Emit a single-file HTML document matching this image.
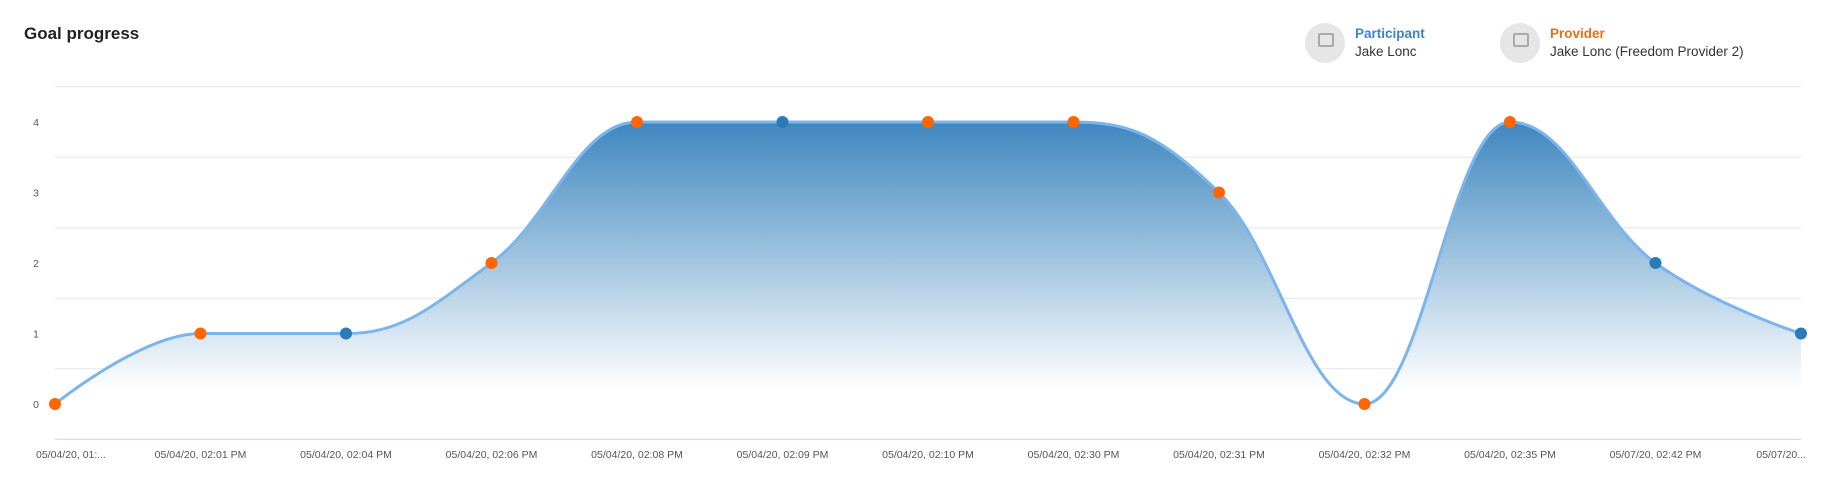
<!DOCTYPE html>
<html><head><meta charset="utf-8">
<style>
html,body{margin:0;padding:0;background:#fff;}
body{width:1836px;height:502px;overflow:hidden;position:relative;font-family:"Liberation Sans",sans-serif;}
.title{position:absolute;left:24px;top:24px;font-size:17px;font-weight:bold;color:#222;}
.legend{position:absolute;top:23px;display:flex;align-items:center;}
.avatar{width:40px;height:40px;border-radius:50%;background:#e6e6e6;margin-right:10px;position:relative;}
.avatar::after{content:"";position:absolute;left:13px;top:10px;width:12px;height:10px;border:2px solid #aaa;border-radius:2px;}
.lt{font-size:13.5px;line-height:18px;}
.lt b{display:block;}
</style></head><body>
<div class="title">Goal progress</div>
<div class="legend" style="left:1305px">
 <div class="avatar"></div>
 <div class="lt"><b style="color:#3d85c6">Participant</b><span style="color:#333">Jake Lonc</span></div>
</div>
<div class="legend" style="left:1500px">
 <div class="avatar"></div>
 <div class="lt"><b style="color:#f26b0f">Provider</b><span style="color:#333">Jake Lonc (Freedom Provider 2)</span></div>
</div>
<svg id="chart" width="1836" height="502" style="position:absolute;left:0;top:0">
<defs><linearGradient id="g" x1="0" y1="0" x2="0" y2="1" gradientUnits="objectBoundingBox">
<stop offset="0" stop-color="#3f87bf"/><stop offset="0.95" stop-color="#ffffff"/><stop offset="1" stop-color="#ffffff"/></linearGradient></defs>
</svg>
<script>
const categories=["05/04/20, 01:...","05/04/20, 02:01 PM","05/04/20, 02:04 PM","05/04/20, 02:06 PM","05/04/20, 02:08 PM","05/04/20, 02:09 PM","05/04/20, 02:10 PM","05/04/20, 02:30 PM","05/04/20, 02:31 PM","05/04/20, 02:32 PM","05/04/20, 02:35 PM","05/07/20, 02:42 PM","05/07/20..."];
const values=[0,1,1,2,4,4,4,4,3,0,4,2,1];
const authors=["provider","provider","participant","provider","provider","participant","provider","provider","provider","provider","provider","participant","participant"];
const yTicks=[0,1,2,3,4];
const gridValues=[4.5,3.5,2.5,1.5,0.5];
const svg=document.getElementById('chart');
const NS='http://www.w3.org/2000/svg';
const X0=55,X1=1801,Y4=122,Y0=404;
function xs(i){return X0+(X1-X0)*i/(categories.length-1);}
function ys(v){return Y0+(Y4-Y0)*v/4;}
function mk(t,a){const e=document.createElementNS(NS,t);for(const k in a)e.setAttribute(k,a[k]);svg.appendChild(e);return e;}
gridValues.forEach((v,i)=>{const l=mk('line',{x1:X0,x2:X1,y1:ys(v),y2:ys(v),stroke:'#e6e6e6','stroke-width':1});

});
const ax=mk('line',{x1:X0,x2:X1,y1:ys(-0.5),y2:ys(-0.5),stroke:'#ccd6eb','stroke-width':1});


yTicks.forEach(v=>{const t=mk('text',{x:36,y:ys(v)+4,'text-anchor':'middle','font-size':10.5,fill:'#555'});t.textContent=v;

});
categories.forEach((c,i)=>{let x=xs(i),a='middle';if(i==0){x=36;a='start';}if(i==categories.length-1){x=1806;a='end';}
const t=mk('text',{x:x,y:458,'text-anchor':a,'font-size':10.5,fill:'#555'});t.textContent=c;

});
const P=values.map((v,i)=>({x:xs(i),y:ys(v)}));
const L=[],R=[];
for(let i=0;i<P.length;i++){
 const p=P[i],a=P[i-1],b=P[i+1];
 if(!a||!b){L[i]={x:p.x,y:p.y};R[i]={x:p.x,y:p.y};continue;}
 let lx=(1.5*p.x+a.x)/2.5,ly=(1.5*p.y+a.y)/2.5,rx=(1.5*p.x+b.x)/2.5,ry=(1.5*p.y+b.y)/2.5;
 const corr=((ry-ly)*(rx-p.x))/(rx-lx)+p.y-ry;ly+=corr;ry+=corr;
 if(ly>Math.max(a.y,p.y)){ly=Math.max(a.y,p.y);ry=2*p.y-ly;}else if(ly<Math.min(a.y,p.y)){ly=Math.min(a.y,p.y);ry=2*p.y-ly;}
 if(ry>Math.max(b.y,p.y)){ry=Math.max(b.y,p.y);ly=2*p.y-ry;}else if(ry<Math.min(b.y,p.y)){ry=Math.min(b.y,p.y);ly=2*p.y-ry;}
 L[i]={x:lx,y:ly};R[i]={x:rx,y:ry};
}
let d='M'+P[0].x+' '+P[0].y;
for(let i=1;i<P.length;i++)d+=' C'+R[i-1].x+' '+R[i-1].y+' '+L[i].x+' '+L[i].y+' '+P[i].x+' '+P[i].y;
const area=mk('path',{d:d+' L'+P[P.length-1].x+' '+ys(0)+' L'+P[0].x+' '+ys(0)+' Z',fill:'url(#g)'});


const line=mk('path',{d:d,fill:'none',stroke:'#7cb5ec','stroke-width':3});


P.forEach((p,i)=>{const c=mk('circle',{cx:p.x,cy:p.y,r:6,fill:authors[i]=='provider'?'#ff6600':'#2b7bb9'});

});
</script>
</body></html>
